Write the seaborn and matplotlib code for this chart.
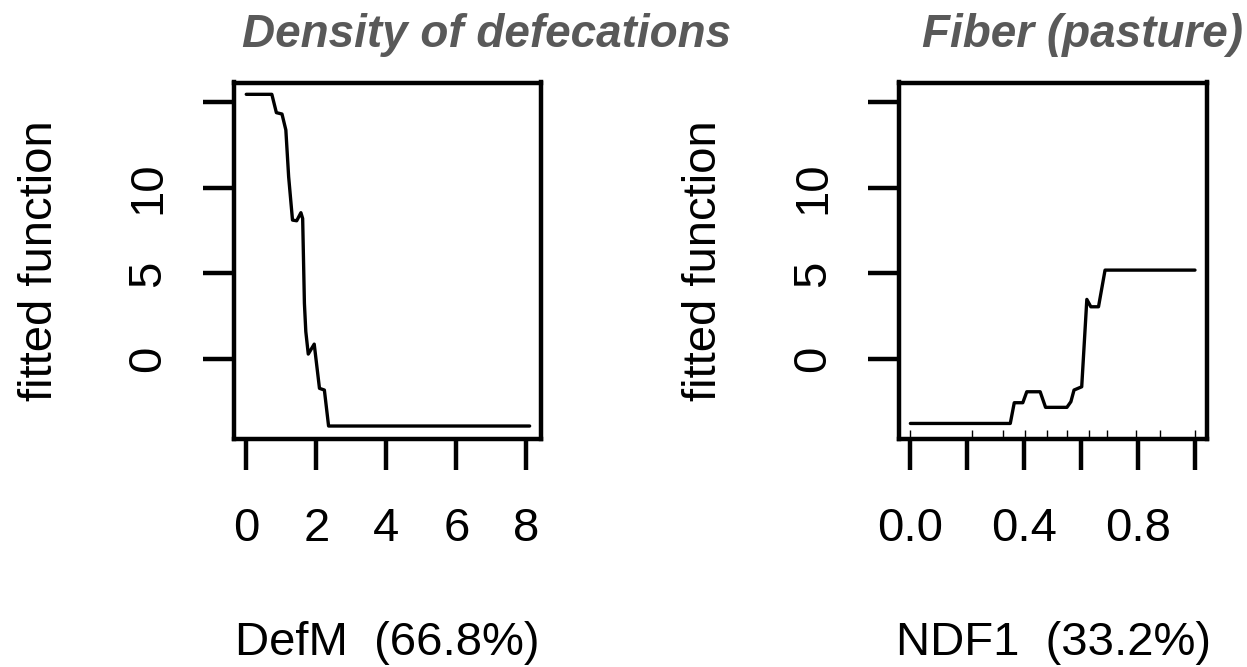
import matplotlib
matplotlib.use('Agg')
import matplotlib.pyplot as plt
import seaborn as sns

# partial dependence values
defm_x = [0.0, 0.73, 0.86, 1.02, 1.13, 1.21, 1.32, 1.44, 1.56, 1.61, 1.66, 1.70,
          1.77, 1.94, 2.09, 2.23, 2.35, 8.09]
defm_y = [15.45, 15.45, 14.38, 14.30, 13.37, 10.64, 8.11, 8.07, 8.54, 8.2, 3.25, 1.60,
          0.29, 0.87, -1.71, -1.81, -3.91, -3.91]

ndf_x = [0.0, 0.351, 0.365, 0.395, 0.409, 0.456, 0.475, 0.550, 0.564, 0.575,
         0.602, 0.620, 0.634, 0.661, 0.684, 1.0]
ndf_y = [-3.76, -3.76, -2.55, -2.55, -1.91, -1.91, -2.82, -2.82, -2.49, -1.81,
         -1.62, 3.48, 3.05, 3.05, 5.19, 5.19]

# deciles of NDF1 (rug)
ndf_deciles = [0.0, 0.216, 0.327, 0.404, 0.48, 0.55, 0.626, 0.69, 0.793, 0.877, 1.0]

y_ticks = [0, 5, 10, 15]
y_labels = ['0', '5', '10', '']
defm_ticks = [0, 2, 4, 6, 8]
defm_labels = ['0', '2', '4', '6', '8']
ndf_ticks = [0.0, 0.2, 0.4, 0.6, 0.8, 1.0]
ndf_labels = ['0.0', '', '0.4', '', '0.8', '']

titles = ['Density of defecations', 'Fiber (pasture)']
xlabels = ['DefM  (66.8%)', 'NDF1  (33.2%)']

sns.set_style('white')
plt.rcParams['font.family'] = ['Liberation Sans', 'DejaVu Sans']

W, H = 1247, 667
fig = plt.figure(figsize=(W / 100, H / 100), dpi=100)
ax1 = fig.add_axes([234 / W, 1 - 438.7 / H, 306.5 / W, 356.2 / H])
ax2 = fig.add_axes([899 / W, 1 - 438.7 / H, 308.5 / W, 356.2 / H])

sns.lineplot(x=defm_x, y=defm_y, ax=ax1, color='black', lw=2.4,
             estimator=None, sort=False)
sns.lineplot(x=ndf_x, y=ndf_y, ax=ax2, color='black', lw=2.4,
             estimator=None, sort=False)
sns.rugplot(x=ndf_deciles, ax=ax2, height=0.025, color='black', lw=1)

ax1.set_xlim(-0.35, 8.4)
ax2.set_xlim(-0.04, 1.044)
for ax, xt, xl, lab in [(ax1, defm_ticks, defm_labels, xlabels[0]),
                        (ax2, ndf_ticks, ndf_labels, xlabels[1])]:
    ax.set_ylim(-4.65, 16.14)
    ax.set_xticks(xt)
    ax.set_xticklabels(xl)
    ax.set_yticks(y_ticks)
    ax.set_yticklabels(y_labels)
    for s in ax.spines.values():
        s.set_visible(True)
        s.set_linewidth(3.2)
        s.set_color('black')
    ax.tick_params(axis='both', direction='out', length=22, width=3.2,
                   color='black', labelsize=34, labelcolor='black',
                   bottom=True, left=True)
    ax.tick_params(axis='x', pad=27)
    ax.tick_params(axis='y', pad=24, labelrotation=90)
    for t in ax.get_yticklabels():
        t.set_verticalalignment('center')
    ax.set_xlabel(lab, fontsize=34, color='black')
    ax.xaxis.set_label_coords(0.5, -0.512)
    ax.set_ylabel('fitted function', fontsize=34, color='black')
    ax.yaxis.set_label_coords(-0.56, 0.5)

fig.text(242 / W, 1 - 47 / H, titles[0], fontsize=33, fontweight='bold',
         fontstyle='italic', color='#595959', ha='left', va='baseline')
fig.text(922 / W, 1 - 47 / H, titles[1], fontsize=33, fontweight='bold',
         fontstyle='italic', color='#595959', ha='left', va='baseline')

fig.savefig('out.png', dpi=100)
